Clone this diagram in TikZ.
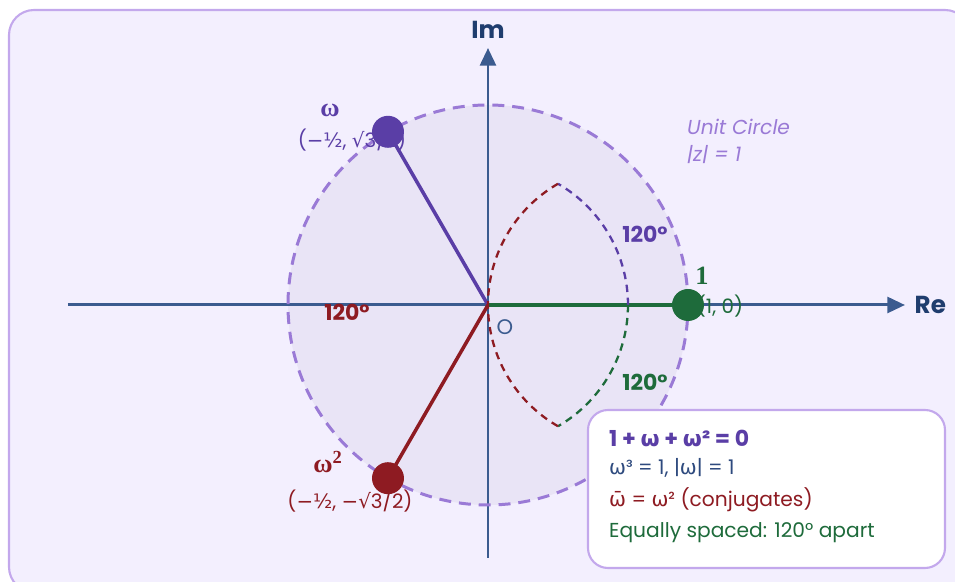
\documentclass[tikz,border=0pt]{standalone}
\usepackage{fontspec}
\setmainfont{Poppins}
\newfontfamily\gk{DejaVu Sans}
\newfontfamily\srf{Liberation Serif}
\usetikzlibrary{arrows.meta}
\definecolor{bgc}{HTML}{F3EFFE}
\definecolor{frame}{HTML}{C3A8EC}
\definecolor{circfill}{HTML}{E9E4F6}
\definecolor{circdash}{HTML}{9A7AD6}
\definecolor{axisc}{HTML}{3B5B8F}
\definecolor{axlbl}{HTML}{1F3D6E}
\definecolor{purp}{HTML}{5A3EA6}
\definecolor{rootred}{HTML}{8E1B22}
\definecolor{grn}{HTML}{1E6B3B}
\definecolor{legblue}{HTML}{2E4A7E}
\newcommand{\omg}{{\gk ω}}
\newcommand{\gsym}[1]{{\gk #1}}

\begin{document}
\begin{tikzpicture}[>={Triangle[length=10pt,width=9pt]},
    every node/.style={font=\fontsize{12}{14}\selectfont},
    axis/.style={draw=axisc,line width=1.7pt},
    spoke/.style={line width=2pt},
    dot/.style={circle,inner sep=0pt,minimum size=0.64cm},
    arcline/.style={line width=1.3pt,dash pattern=on 4.2pt off 3.2pt},
    rootlbl/.style={font=\srf\bfseries\fontsize{15}{16}\selectfont},
    xylbl/.style={font=\fontsize{11.3}{14}\selectfont},
    anglbl/.style={font=\bfseries\fontsize{12.5}{14}\selectfont},
    legline/.style={anchor=west,font=\fontsize{11.5}{14}\selectfont}]
  \useasboundingbox (-9.76,-5.54) rectangle (9.34,6.10);
  \draw[draw=frame,fill=bgc,line width=1.2pt,rounded corners=0.5cm]
    (-9.58,5.9) rectangle (9.64,-5.74);
  % points of the plane
  \coordinate (O) at (0,0);
  \coordinate (w1) at (120:4);
  \coordinate (w2) at (240:4);
  \coordinate (one) at (4,0);
  \coordinate (xl) at (-8.4,0);
  \coordinate (xr) at (8.34,0);
  \coordinate (yb) at (0,-5.06);
  \coordinate (yt) at (0,5.14);
  % unit circle
  \fill[circfill] (O) circle (4);
  \draw[axis,->] (xl) -- (xr);
  \draw[axis,->] (yb) -- (yt);
  \draw[circdash,line width=1.7pt,dash pattern=on 6.8pt off 4.5pt] (O) circle (4);
  \node[font=\bfseries\fontsize{14}{16}\selectfont,text=axlbl,right=2pt] (re) at (xr) {Re};
  \node[font=\bfseries\fontsize{14}{16}\selectfont,text=axlbl,above=2pt] (im) at (yt) {Im};
  % spokes
  \draw[spoke,purp] (O) -- (w1);
  \draw[spoke,rootred] (O) -- (w2);
  \draw[spoke,grn] (O) -- (one);
  % angle arcs
  \draw[arcline,purp] (2.8,0) arc (0:60:2.8);
  \draw[arcline,grn] (2.8,0) arc (0:-60:2.8);
  \draw[arcline,rootred] (1.4,-2.425) arc (240:120:2.8);
  \node[anglbl,text=purp] (a1) at (3.14,1.42) {120°};
  \node[anglbl,text=grn] (a2) at (3.14,-1.54) {120°};
  \node[anglbl,text=rootred] (a3) at (-2.82,-0.14) {120°};
  \node[text=axisc] (olbl) at (0.34,-0.44) {O};
  \node[font=\itshape\fontsize{11.5}{14}\selectfont,text=circdash,anchor=west] (uc1) at (3.86,3.56) {Unit Circle};
  \node[font=\itshape\fontsize{11.5}{14}\selectfont,text=circdash,anchor=west] (uc2) at (3.86,3.0) {|z| = 1};
  % root labels
  \node[rootlbl,text=purp] (w1name) at (-3.16,3.9) {ω};
  \node[xylbl,text=purp] (w1xy) at (-2.72,3.3) {(\gsym{−½}, \gsym{√}3/2)};
  \node[rootlbl,text=rootred] (w2name) at (-3.2,-3.14) {ω\textsuperscript{2}};
  \node[xylbl,text=rootred] (w2xy) at (-2.76,-3.92) {(\gsym{−½}, \gsym{−√}3/2)};
  \node[rootlbl,text=grn] (onename) at (4.28,0.58) {1};
  \node[xylbl,text=grn] (onexy) at (4.64,-0.02) {(1, 0)};
  % dots
  \node[dot,fill=purp] (d1) at (w1) {};
  \node[dot,fill=rootred] (d2) at (w2) {};
  \node[dot,fill=grn] (d0) at (one) {};
  % legend
  \node[draw=frame,fill=white,rounded corners=0.4cm,line width=1.2pt,
    minimum width=7.14cm,minimum height=3.16cm] (legend) at (5.57,-3.68) {};
  \node[legline,text=purp,font=\bfseries\fontsize{12.5}{14}\selectfont] (l1) at (2.3,-2.66) {1 + \omg{} + \omg² = 0};
  \node[legline,text=legblue] (l2) at (2.3,-3.26) {\omg³ = 1, |\omg| = 1};
  \node[legline,text=rootred] (l3) at (2.3,-3.9) {{\gk ω̄} = \omg² (conjugates)};
  \node[legline,text=grn] (l4) at (2.3,-4.56) {Equally spaced: 120° apart};
\end{tikzpicture}
\end{document}
